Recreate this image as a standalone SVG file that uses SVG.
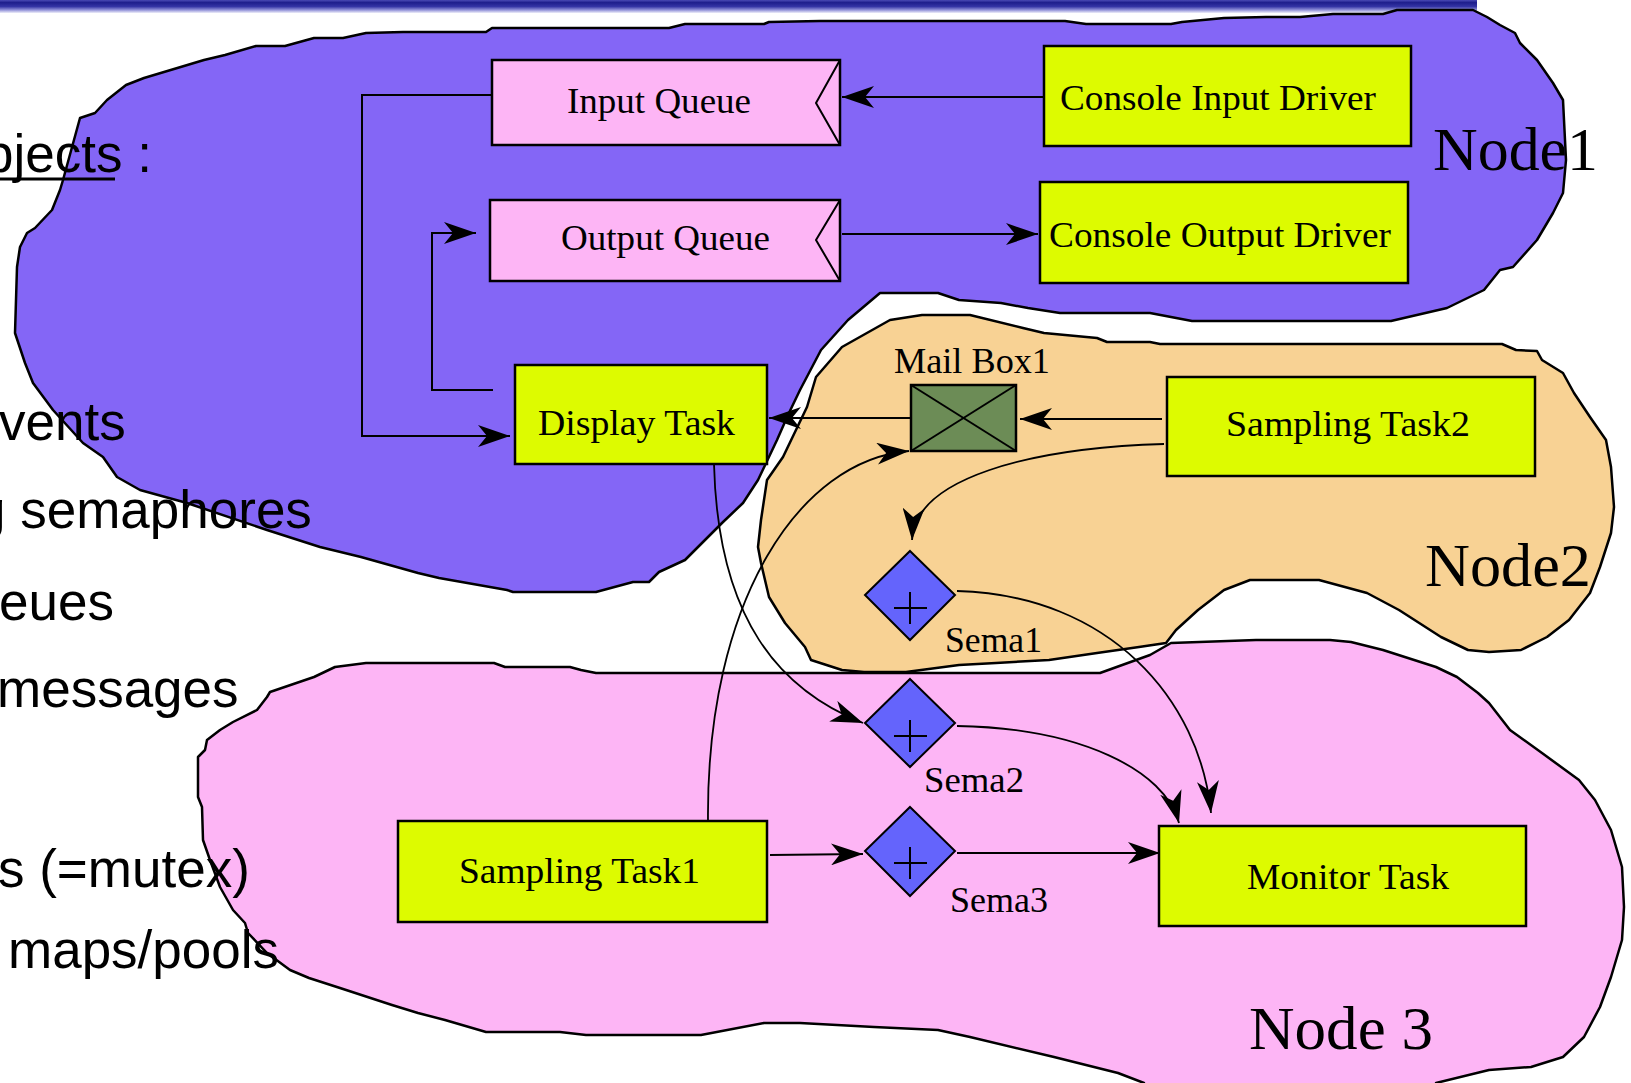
<svg xmlns="http://www.w3.org/2000/svg" width="1631" height="1083" viewBox="0 0 1631 1083">
  <defs>
    <linearGradient id="titleBar" x1="0" y1="0" x2="0" y2="1">
      <stop offset="0" stop-color="#4a4ab4"/>
      <stop offset="0.2" stop-color="#1e1e8c"/>
      <stop offset="0.5" stop-color="#3434a4"/>
      <stop offset="0.75" stop-color="#8c8cd6"/>
      <stop offset="1" stop-color="#eeeefa"/>
    </linearGradient>
    <marker id="arrow" viewBox="0 0 32 22" refX="32" refY="11" markerWidth="32" markerHeight="22" markerUnits="userSpaceOnUse" orient="auto">
      <path d="M0,0 L32,11 L0,22 L9,11 Z" fill="#000"/>
    </marker>
    <style>
      .blob { stroke: #000; stroke-width: 2.5; stroke-linejoin: round; }
      .node1 { fill: #8466f6; }
      .node2 { fill: #f8d294; }
      .node3 { fill: #fdb5f5; }
      .task { fill: #ddfb00; stroke: #000; stroke-width: 2.5; }
      .queue { fill: #fdb5f5; stroke: #000; stroke-width: 2.5; }
      .notch { fill: none; stroke: #000; stroke-width: 2; }
      .mbox { fill: #6c8c56; stroke: #000; stroke-width: 2.5; }
      .mx { stroke: #000; stroke-width: 2; }
      .sema { fill: #6464fc; stroke: #000; stroke-width: 2; }
      .plus { stroke: #000; stroke-width: 2; }
      .lbl { font-family: "Liberation Serif", "Times New Roman", serif; font-size: 36px; fill: #000; }
      .big { font-family: "Liberation Serif", "Times New Roman", serif; font-size: 62px; fill: #000; }
      .bullet { font-family: "Liberation Sans", Arial, sans-serif; font-size: 53px; fill: #000; }
      .conn { fill: none; stroke: #000; stroke-width: 2; }
      .curve { fill: none; stroke: #000; stroke-width: 1.8; }
    </style>
  </defs>

  <rect width="1631" height="1083" fill="#fff"/>

  <!-- slide title bar -->
  <rect x="0" y="0" width="1477" height="13" fill="url(#titleBar)"/>

  <!-- node regions -->
  <g id="node1">
    <path class="blob node1" d="M80,118 L95,113 L107,100 L126,85 L144,78 L204,60 L225,55 L256,46 L285,46 L314,38 L343,38 L366,33 L403,32 L486,32 L492,28 L669,28 L685,24 L764,24 L769,22 L820,21 L1065,21 L1086,24 L1171,24 L1182,22 L1224,18 L1266,17 L1300,17 L1333,14 L1383,14 L1397,10 L1473,10 L1487,17 L1500,25 L1515,33 L1520,43 L1537,60 L1553,83 L1563,100 L1566,160 L1563,193 L1553,213 L1537,240 L1513,267 L1500,270 L1484,290 L1447,308 L1391,321 L1192,321 L1150,313 L1060,313 L1028,308 L1001,303 L959,300 L938,293 L880,293 L848,320 L821,350 L800,390 L788,415 L777,440 L758,480 L743,503 L722,523 L685,560 L659,572 L649,582 L633,582 L596,592 L513,592 L507,590 L439,578 L418,573 L361,557 L320,547 L267,530 L187,503 L140,490 L117,477 L103,457 L83,443 L53,410 L33,383 L25,363 L15,333 L17,267 L20,247 L27,233 L35,228 L52,210 L60,190 L63,180 Z"/>
    <text class="big" x="1433" y="170" textLength="165" lengthAdjust="spacingAndGlyphs">Node1</text>
  </g>

  <g id="node3">
    <path class="blob node3" d="M267,697 L270,692 L314,677 L335,667 L366,663 L494,663 L505,667 L570,667 L581,670 L596,673 L1100,673 L1150,655 L1171,643 L1256,640 L1330,640 L1351,642 L1383,650 L1436,667 L1457,677 L1478,693 L1489,703 L1510,730 L1542,753 L1579,780 L1595,800 L1611,830 L1622,867 L1624,907 L1622,940 L1611,977 L1600,1007 L1584,1037 L1563,1057 L1531,1067 L1489,1070 L1436,1083 L1436,1090 L1144,1090 L1144,1083 L1118,1073 L1054,1057 L970,1037 L938,1030 L874,1027 L800,1023 L764,1023 L701,1035 L586,1035 L560,1032 L486,1032 L445,1020 L418,1013 L392,1005 L340,988 L309,978 L290,970 L267,953 L248,933 L245,923 L233,910 L220,887 L210,860 L203,840 L202,807 L198,797 L198,757 L205,750 L207,740 L220,730 L233,722 L257,710 Z"/>
    <text class="big" x="1249" y="1049" textLength="184" lengthAdjust="spacingAndGlyphs">Node 3</text>
  </g>

  <g id="node2">
    <path class="blob node2" d="M816,377 L842,347 L890,320 L922,315 L970,315 L1023,328 L1044,333 L1097,338 L1107,342 L1150,342 L1160,344 L1502,344 L1516,350 L1537,351 L1542,360 L1563,373 L1574,393 L1590,417 L1606,440 L1611,467 L1614,507 L1611,533 L1600,567 L1590,593 L1569,620 L1547,637 L1521,650 L1489,652 L1468,650 L1441,637 L1399,610 L1367,593 L1319,580 L1250,580 L1224,590 L1198,610 L1176,630 L1166,643 L1139,647 L1097,653 L1049,660 L996,663 L959,665 L906,672 L864,672 L842,670 L811,660 L805,647 L785,623 L769,597 L761,563 L758,547 L761,520 L767,480 L783,457 L807,407 Z"/>
    <text class="big" x="1425" y="586" textLength="166" lengthAdjust="spacingAndGlyphs">Node2</text>
  </g>

  <!-- slide bullet text, printed over the regions -->
  <g id="slide-text">
    <text class="bullet" x="-16" y="172" font-size="50">bjects :</text>
    <line x1="0" y1="179" x2="115" y2="179" stroke="#000" stroke-width="3"/>
    <text class="bullet" x="-1" y="440">vents</text>
    <text class="bullet" x="-24" y="528">g semaphores</text>
    <text class="bullet" x="-1" y="620">eues</text>
    <text class="bullet" x="-3" y="707">messages</text>
    <text class="bullet" x="-2" y="887">s (=mutex)</text>
    <text class="bullet" x="8" y="968">maps/pools</text>
  </g>

  <!-- tasks, queues, mailbox and semaphores -->
  <g id="input-queue">
    <rect class="queue" x="492" y="60" width="348" height="85"/>
    <polyline class="notch" points="840,60 816,103 840,145"/>
    <text class="lbl" x="567" y="113" textLength="184" lengthAdjust="spacingAndGlyphs">Input Queue</text>
  </g>
  <g id="output-queue">
    <rect class="queue" x="490" y="200" width="350" height="81"/>
    <polyline class="notch" points="840,200 816,240 840,281"/>
    <text class="lbl" x="561" y="250" textLength="209" lengthAdjust="spacingAndGlyphs">Output Queue</text>
  </g>
  <g id="console-input-driver">
    <rect class="task" x="1044" y="46" width="367" height="100"/>
    <text class="lbl" x="1060" y="110" textLength="316" lengthAdjust="spacingAndGlyphs">Console Input Driver</text>
  </g>
  <g id="console-output-driver">
    <rect class="task" x="1040" y="182" width="368" height="101"/>
    <text class="lbl" x="1049" y="247" textLength="342" lengthAdjust="spacingAndGlyphs">Console Output Driver</text>
  </g>
  <g id="display-task">
    <rect class="task" x="515" y="365" width="252" height="99"/>
    <text class="lbl" x="538" y="435" textLength="197" lengthAdjust="spacingAndGlyphs">Display Task</text>
  </g>
  <g id="mail-box1">
    <rect class="mbox" x="911" y="385" width="105" height="66"/>
    <line class="mx" x1="911" y1="385" x2="1016" y2="451"/>
    <line class="mx" x1="1016" y1="385" x2="911" y2="451"/>
    <text class="lbl" x="894" y="373" textLength="156" lengthAdjust="spacingAndGlyphs">Mail Box1</text>
  </g>
  <g id="sampling-task2">
    <rect class="task" x="1167" y="377" width="368" height="99"/>
    <text class="lbl" x="1226" y="436" textLength="244" lengthAdjust="spacingAndGlyphs">Sampling Task2</text>
  </g>
  <g id="sema1">
    <polygon class="sema" points="910,551 955,595 910,640 865,595"/>
    <line class="plus" x1="894" y1="608" x2="927" y2="608"/>
    <line class="plus" x1="910" y1="592" x2="910" y2="624"/>
    <text class="lbl" x="945" y="652" textLength="97" lengthAdjust="spacingAndGlyphs">Sema1</text>
  </g>
  <g id="sema2">
    <polygon class="sema" points="910,679 955,723 910,767 865,723"/>
    <line class="plus" x1="894" y1="736" x2="927" y2="736"/>
    <line class="plus" x1="910" y1="720" x2="910" y2="752"/>
    <text class="lbl" x="924" y="792" textLength="100" lengthAdjust="spacingAndGlyphs">Sema2</text>
  </g>
  <g id="sema3">
    <polygon class="sema" points="910,807 955,851 910,896 865,851"/>
    <line class="plus" x1="894" y1="863" x2="927" y2="863"/>
    <line class="plus" x1="910" y1="847" x2="910" y2="879"/>
    <text class="lbl" x="950" y="912" textLength="98" lengthAdjust="spacingAndGlyphs">Sema3</text>
  </g>
  <g id="sampling-task1">
    <rect class="task" x="398" y="821" width="369" height="101"/>
    <text class="lbl" x="459" y="883" textLength="241" lengthAdjust="spacingAndGlyphs">Sampling Task1</text>
  </g>
  <g id="monitor-task">
    <rect class="task" x="1159" y="826" width="367" height="100"/>
    <text class="lbl" x="1247" y="889" textLength="202" lengthAdjust="spacingAndGlyphs">Monitor Task</text>
  </g>

  <!-- connectors -->
  <g id="connectors">
    <path class="conn" d="M1043,97 H842" marker-end="url(#arrow)"/>
    <path class="conn" d="M842,234 H1038" marker-end="url(#arrow)"/>
    <path class="conn" d="M492,95 H362 V436 H510" marker-end="url(#arrow)"/>
    <path class="conn" d="M493,390 H432 V233 H476" marker-end="url(#arrow)"/>
    <path class="conn" d="M1162,419 H1020" marker-end="url(#arrow)"/>
    <path class="conn" d="M911,418 H769" marker-end="url(#arrow)"/>
    <path class="curve" d="M1164,444 C1030,448 915,478 912,540" marker-end="url(#arrow)"/>
    <path class="curve" d="M957,591 C1110,595 1200,700 1211,813" marker-end="url(#arrow)"/>
    <path class="curve" d="M957,726 C1080,728 1165,770 1179,823" marker-end="url(#arrow)"/>
    <path class="conn" d="M957,853 H1160" marker-end="url(#arrow)"/>
    <path class="conn" d="M770,855 L863,854" marker-end="url(#arrow)"/>
    <path class="curve" d="M714,464 C718,620 780,690 863,723" marker-end="url(#arrow)"/>
    <path class="curve" d="M708,821 C706,600 800,460 909,451" marker-end="url(#arrow)"/>
  </g>
</svg>
